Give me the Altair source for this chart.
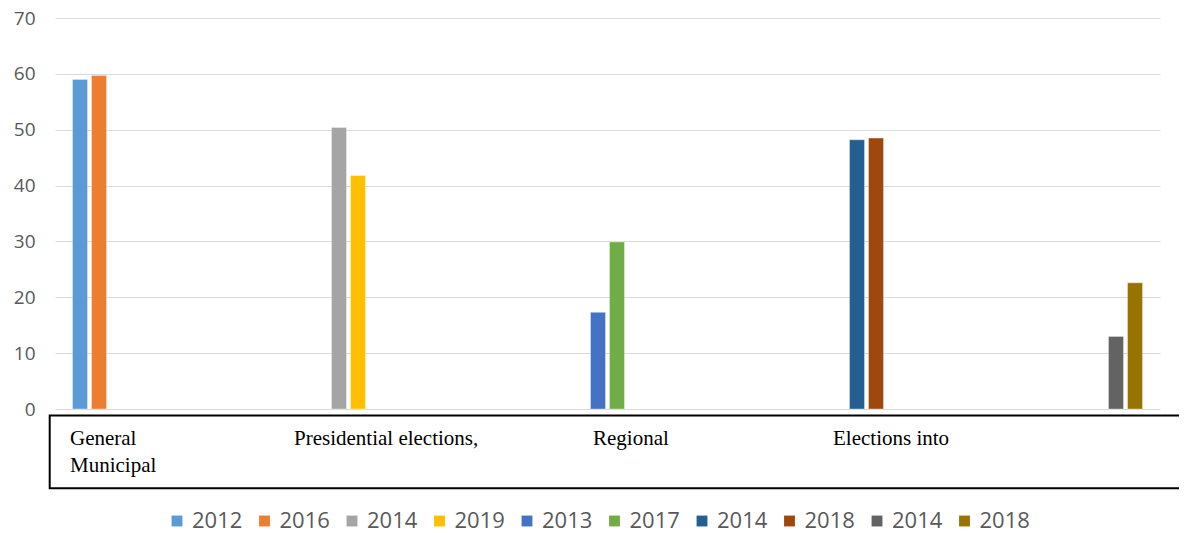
import altair as alt
import pandas as pd

# ---- data ----
group_keys = ["G1", "G2", "G3", "G4", "G5"]
group_labels = ["General\nMunicipal", "Presidential elections,", "Regional", "Elections into", ""]
series_years = ["2012", "2016", "2014", "2019", "2013", "2017", "2014", "2018", "2014", "2018"]
series_colors = ["#5B9BD5", "#ED7D31", "#A5A5A5", "#FFC000", "#4472C4",
                 "#70AD47", "#255E91", "#9E480E", "#636363", "#997300"]
first_values = [59.0, 50.4, 17.3, 48.2, 13.0]
second_values = [59.7, 41.8, 29.9, 48.5, 22.6]

series_keys = [f"s{i:02d} {y}" for i, y in enumerate(series_years)]

rows = []
for gi, g in enumerate(group_keys):
    rows.append({"group": g, "series": series_keys[2 * gi], "value": first_values[gi]})
    rows.append({"group": g, "series": series_keys[2 * gi + 1], "value": second_values[gi]})
df = pd.DataFrame(rows)

W, H = 1105, 391

bars = alt.Chart(df).mark_bar(stroke="white", strokeWidth=0.6, strokeOpacity=0.6).encode(
    x=alt.X("group:N", sort=group_keys,
            scale=alt.Scale(domain=group_keys, paddingInner=0, paddingOuter=0),
            axis=alt.Axis(labels=False, ticks=False, domain=False, title=None, grid=False)),
    xOffset=alt.XOffset("series:N", sort=series_keys,
                        scale=alt.Scale(domain=series_keys, paddingInner=0.21, paddingOuter=0.92)),
    y=alt.Y("value:Q", scale=alt.Scale(domain=[0, 70], nice=False),
            axis=alt.Axis(values=[0, 10, 20, 30, 40, 50, 60, 70], title=None, domain=False,
                          ticks=False, labelPadding=20, labelFont="Open Sans",
                          labelFontSize=19, labelColor="#595959",
                          gridColor="#D9D9D9", gridWidth=1.2)),
    color=alt.Color("series:N", sort=series_keys,
                    scale=alt.Scale(domain=series_keys, range=series_colors),
                    legend=alt.Legend(title=None, orient="none", direction="horizontal",
                                      columns=10, legendX=111, legendY=492,
                                      symbolType="square", symbolSize=118,
                                      symbolStrokeWidth=0, labelOffset=4,
                                      labelFont="Open Sans", labelFontSize=22,
                                      labelColor="#595959", columnPadding=10.5,
                                      labelExpr="slice(datum.label, 4)")),
)

label_df = pd.DataFrame({"group": group_keys, "label": group_labels})
label_dx = [15, 18, 96, 115]

text_layers = []
for gi in range(4):
    sub = label_df.iloc[[gi]]
    t = alt.Chart(sub).mark_text(
        align="left", baseline="alphabetic", font="Liberation Serif",
        fontSize=21, color="black", lineBreak="\n", lineHeight=27, dx=label_dx[gi]
    ).encode(
        x=alt.X("group:N", bandPosition=0, sort=group_keys),
        y=alt.value(427),
        text="label:N",
    )
    text_layers.append(t)

box = alt.Chart(pd.DataFrame({"k": [0]})).mark_rect(
    fill=None, stroke="black", strokeWidth=2
).encode(
    x=alt.value(-5.3), x2=alt.value(1140),
    y=alt.value(397.5), y2=alt.value(470.3),
)

chart = alt.layer(bars, box, *text_layers).properties(
    width=W, height=H,
    autosize=alt.AutoSizeParams(type="none"),
    padding={"left": 47, "top": 10, "right": 19, "bottom": 124},
).configure_view(stroke=None)

chart.save("out.html", embed_options={"renderer": "svg", "actions": False})
